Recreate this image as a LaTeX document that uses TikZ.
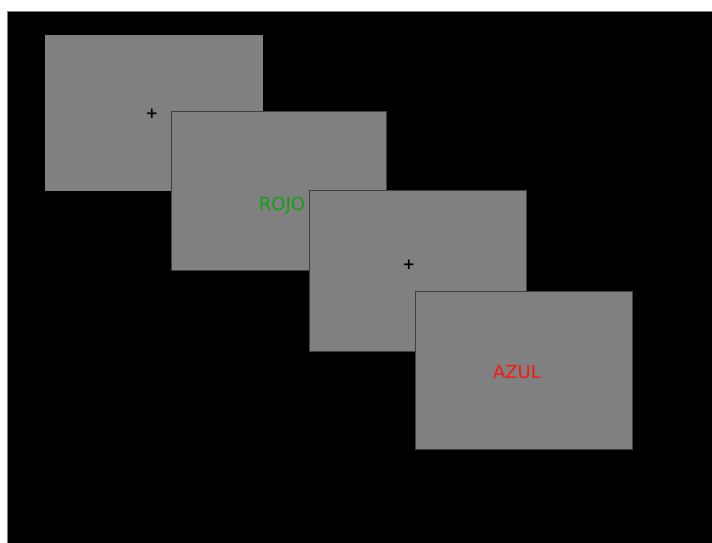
\documentclass[tikz,border=0pt]{standalone}
\usepackage{fontspec}
\setmainfont{DejaVu Sans}
\definecolor{scr}{RGB}{128,128,128}
\definecolor{rojo}{RGB}{20,160,20}
\definecolor{azul}{RGB}{255,20,20}
\begin{document}
\begin{tikzpicture}[x=1pt,y=-1pt,
  screen/.style={fill=scr,draw=black!75,line width=0.8pt},
  word/.style={font=\fontsize{18}{18}\selectfont,inner sep=0pt},
  cross/.style={font=\bfseries\fontsize{15}{15}\selectfont,inner sep=0pt}]
\useasboundingbox (0,0) rectangle (712,543);
\fill[white] (0,0) rectangle (712,543);
\filldraw[fill=black,draw=gray,line width=0.8pt] (7.5,11.5) rectangle (713,544);
\fill[scr] (45,35) rectangle (263,191);
\node[cross] (f1) at (152,114) {+};
\filldraw[screen] (171,111) rectangle (386,270);
\node[word,text=rojo] (w1) at (282,205.5) {ROJO};
\filldraw[screen] (309,190) rectangle (526,351);
\node[cross] (f2) at (409,265) {+};
\filldraw[screen] (415,291) rectangle (632,449);
\node[word,text=azul] (w2) at (517,372.5) {AZUL};
\end{tikzpicture}
\end{document}
